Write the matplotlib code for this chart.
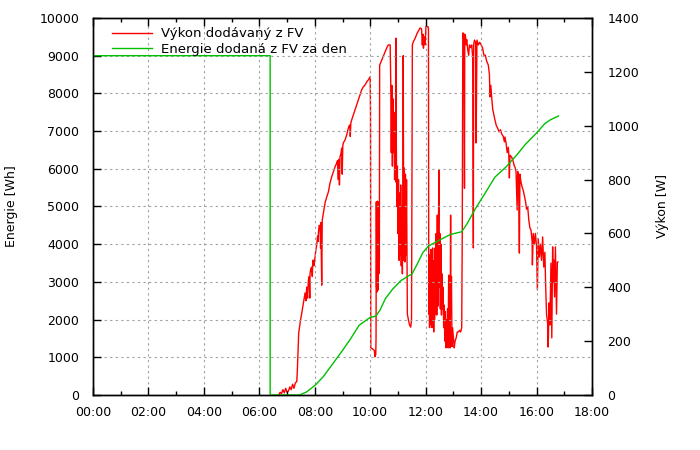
import matplotlib
matplotlib.use("Agg")
import matplotlib.pyplot as plt
from matplotlib.ticker import MultipleLocator, FuncFormatter

# ---- data ----
# Energy delivered by PV during the day [Wh], time in hours
energy_t = [0.0, 6.39, 6.39, 7.45, 7.7, 8.0, 8.3, 8.6, 9.0, 9.3, 9.6, 10.0, 10.2,
            10.35, 10.55, 10.8, 11.1, 11.4, 11.5, 11.7, 11.9, 12.1, 12.5, 12.9,
            13.3, 13.5, 13.8, 14.1, 14.5, 14.9, 15.3, 15.6, 16.0, 16.3, 16.5, 16.79]
energy_wh = [9000, 9000, 0, 0, 80, 250, 480, 780, 1180, 1500, 1850, 2060, 2090,
             2250, 2560, 2800, 3030, 3170, 3200, 3480, 3780, 3950, 4110, 4260,
             4330, 4550, 4950, 5300, 5780, 6050, 6380, 6650, 6950, 7200, 7300, 7400]

# PV power [W], time in hours
power_t = [
    6.70, 6.75, 6.80, 6.85, 6.90, 6.95, 7.00, 7.05, 7.10, 7.15, 7.20, 7.25, 7.30, 7.35,
    7.37, 7.40, 7.42, 7.47, 7.53, 7.59, 7.65, 7.68, 7.71, 7.74, 7.77, 7.80, 7.82, 7.83,
    7.86, 7.89, 7.91, 7.93, 7.95, 7.97, 8.01, 8.04, 8.07, 8.10, 8.12, 8.13, 8.16, 8.19,
    8.21, 8.22, 8.25, 8.27, 8.31, 8.37, 8.43, 8.49, 8.55, 8.61, 8.67, 8.73, 8.79, 8.82,
    8.85, 8.87, 8.89, 8.91, 8.95, 8.97, 8.99, 9.01, 9.03, 9.09, 9.15, 9.21, 9.24, 9.27,
    9.28, 9.30, 9.33, 9.39, 9.45, 9.51, 9.57, 9.63, 9.69, 9.75, 9.81, 9.87, 9.93, 9.99,
    10.00, 10.01, 10.02, 10.10, 10.15, 10.17, 10.20, 10.21, 10.22, 10.23, 10.24, 10.25,
    10.26, 10.27, 10.28, 10.29, 10.30, 10.31, 10.32, 10.33, 10.34,
    10.40, 10.50, 10.60, 10.65, 10.72, 10.74,
    10.76, 10.78, 10.80, 10.82, 10.84, 10.86, 10.88, 10.90, 10.92, 10.93, 10.94, 10.96,
    10.98, 11.00, 11.02, 11.04, 11.06, 11.08, 11.10, 11.12, 11.14, 11.16, 11.18, 11.19,
    11.21, 11.23, 11.25, 11.27, 11.29, 11.31, 11.33, 11.34, 11.38, 11.42, 11.46, 11.49,
    11.52, 11.55, 11.62, 11.70, 11.80, 11.85, 11.88, 11.90, 11.92, 11.95, 11.98, 12.01,
    12.08, 12.10, 12.11,
    12.12, 12.13, 12.14, 12.16, 12.17, 12.19, 12.20, 12.22, 12.23, 12.25, 12.26, 12.28,
    12.29, 12.31, 12.32, 12.34,
    12.36, 12.38, 12.40, 12.42, 12.44, 12.46, 12.48, 12.49, 12.51, 12.53, 12.55, 12.57,
    12.59, 12.61, 12.63, 12.65, 12.67, 12.69, 12.71, 12.73, 12.75, 12.77, 12.79, 12.81,
    12.83, 12.85, 12.87, 12.88, 12.90, 12.91, 12.93, 12.95, 12.97, 13.00, 13.03, 13.06,
    13.10, 13.14, 13.18, 13.22, 13.26, 13.30, 13.32, 13.34,
    13.36, 13.38, 13.40, 13.41, 13.44, 13.46, 13.48, 13.52, 13.55, 13.58, 13.62, 13.66,
    13.70, 13.72, 13.73, 13.76, 13.80, 13.82, 13.85, 13.90, 13.95, 14.00, 14.05, 14.10,
    14.15, 14.20, 14.26, 14.30, 14.32, 14.35, 14.38, 14.42, 14.46, 14.50, 14.55, 14.60,
    14.65, 14.70, 14.74, 14.80, 14.84, 14.86, 14.90, 14.94, 14.98, 15.00, 15.02, 15.04,
    15.10, 15.15, 15.20, 15.22, 15.26, 15.30, 15.32, 15.35, 15.38, 15.40, 15.44, 15.48,
    15.52, 15.56, 15.60, 15.64, 15.68, 15.72, 15.76, 15.80, 15.84, 15.85, 15.88, 15.92,
    15.96, 16.00, 16.03, 16.06, 16.10, 16.14, 16.18, 16.22, 16.26, 16.30, 16.33, 16.36,
    16.40, 16.42, 16.45, 16.48, 16.52, 16.55, 16.58, 16.60, 16.62, 16.65, 16.68, 16.72,
    16.75, 16.77]
power_w = [
    0, 10, 5, 20, 8, 25, 10, 15, 30, 20, 40, 25, 45, 50,
    87, 180, 230, 267, 305, 342, 379, 350, 401, 360, 427, 440, 360, 453,
    470, 475, 440, 500, 501, 480, 512, 540, 557, 590, 570, 601, 630, 624,
    545, 640, 408, 650, 676, 713, 735, 754, 787, 810, 828, 847, 861, 870,
    800, 875, 780, 884, 900, 917, 820, 925, 936, 947, 965, 991, 1000, 1003,
    960, 1010, 1021, 1040, 1058, 1077, 1095, 1114, 1133, 1144, 1151, 1162, 1170, 1181,
    1182, 1047, 175, 170, 165, 142, 150, 212, 717, 400, 700, 383,
    720, 420, 700, 390, 710, 450, 717, 500, 1225,
    1240, 1265, 1290, 1300, 1300, 1162,
    900, 1150, 850, 1100, 900, 1050, 800, 1000, 791, 1325, 950, 700,
    850, 600, 800, 500, 750, 520, 780, 480, 700, 450, 800, 1260,
    500, 843, 494, 820, 520, 800, 434, 300, 278, 260, 252, 278,
    1300, 1310, 1325, 1345, 1363, 1360, 1300, 1340, 1288, 1330, 1300, 1368,
    1368, 1360, 531,
    300, 520, 250, 500, 280, 540, 260, 480, 250, 546, 300, 450,
    234, 500, 280, 546,
    300, 600, 297, 668, 330, 620, 835, 400, 600, 320, 560, 297,
    450, 320, 400, 250, 334, 200, 310, 175, 280, 190, 320, 175,
    445, 230, 400, 175, 668, 300, 440, 180, 250, 212, 175, 200,
    212, 234, 234, 240, 234, 250, 600, 1344,
    1344, 1300, 768, 1340, 1330, 1300, 1320, 1280, 1262, 1300, 1290, 1300,
    1250, 546, 1300, 1318, 1310, 936, 1318, 1300, 1310, 1300, 1290, 1262,
    1262, 1240, 1225, 1190, 1107, 1150, 1107, 1060, 1040, 1021, 1000, 990,
    977, 985, 970, 960, 940, 958, 936, 900, 920, 891, 806, 890,
    884, 870, 850, 847, 830, 687, 830, 810, 527, 820, 790, 772,
    760, 740, 720, 690, 700, 650, 620, 613, 570, 483, 600, 560,
    600, 550, 390, 580, 512, 560, 500, 587, 475, 530, 400, 300,
    267, 178, 342, 260, 490, 212, 550, 420, 501, 364, 550, 300,
    494, 494]

legend_labels = ["Výkon dodávaný z FV", "Energie dodaná z FV za den"]
red = "#ff0000"
green = "#00c000"

plt.rcParams['font.family'] = ['DejaVu Sans']
plt.rcParams['font.size'] = 9

fig = plt.figure(figsize=(7, 4.5), dpi=100)
ax = fig.add_axes([93/700, 55/450, (592-93)/700, (395-18)/450])
ax2 = ax.twinx()

lp, = ax2.plot(power_t, power_w, color=red, lw=1.0)
le, = ax.plot(energy_t, energy_wh, color=green, lw=1.0)

ax.set_zorder(ax2.get_zorder() + 1)
ax.patch.set_visible(False)

ax.set_xlim(0, 18)
ax.set_ylim(0, 10000)
ax2.set_ylim(0, 1400)

ax.xaxis.set_major_locator(MultipleLocator(2))
ax.xaxis.set_minor_locator(MultipleLocator(1))
ax.xaxis.set_major_formatter(FuncFormatter(lambda v, p: "%02d:00" % int(round(v))))
ax.yaxis.set_major_locator(MultipleLocator(1000))
ax2.yaxis.set_major_locator(MultipleLocator(200))

ax.tick_params(axis='x', which='both', direction='in', top=True, bottom=True, pad=8)
ax.tick_params(axis='x', which='major', length=6, width=1)
ax.tick_params(axis='x', which='minor', length=3, width=1)
ax.tick_params(axis='y', which='major', direction='in', length=6, width=1, pad=10)
ax2.tick_params(axis='y', which='major', direction='in', length=6, width=1, pad=11)

for a in (ax, ax2):
    for s in a.spines.values():
        s.set_linewidth(1.0)
        s.set_color('black')

ax.grid(True, which='major', color='#a0a0a0', linestyle=(0, (2, 3)), linewidth=0.8)

ax.set_ylabel("Energie [Wh]")
ax.yaxis.set_label_coords(-0.150, 0.5)
ax2.set_ylabel("Výkon [W]")
ax2.yaxis.set_label_coords(1.128, 0.5)

ax.legend([lp, le], legend_labels, loc='upper left', frameon=False,
          handlelength=3.0, borderaxespad=0.3, labelspacing=0.2,
          handletextpad=0.7, fontsize=9.5, bbox_to_anchor=(0.02, 1.0))

fig.savefig("out.png", dpi=100)
